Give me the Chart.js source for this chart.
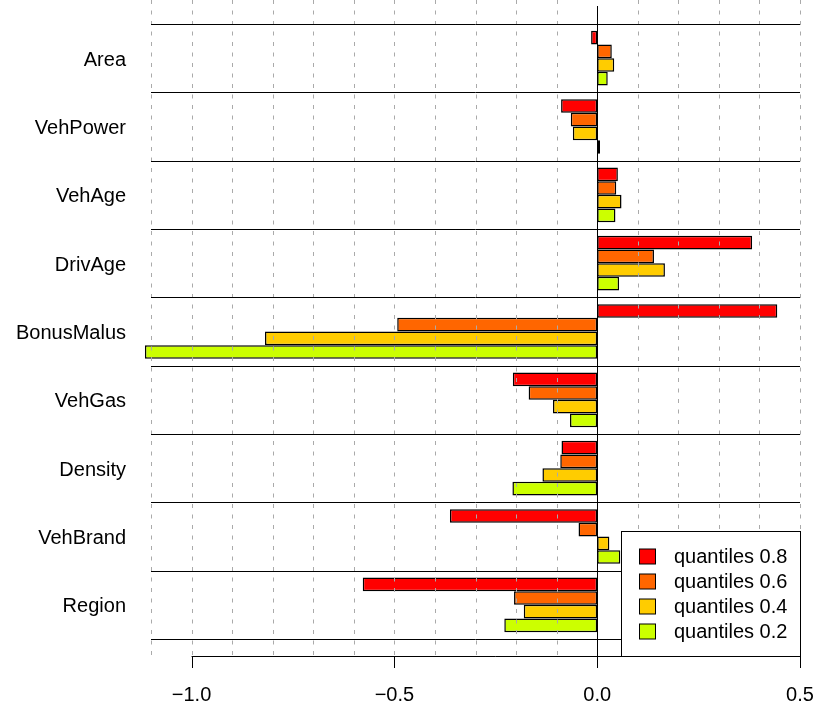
<!DOCTYPE html>
<html>
<head>
<meta charset="utf-8">
<script src="https://cdn.jsdelivr.net/npm/chart.js@4/dist/chart.umd.min.js"></script>
<style>
  html, body { margin: 0; padding: 0; background: #fff; }
  #wrap { width: 817px; height: 705px; position: relative; }
</style>
</head>
<body>
<div id="wrap"><canvas id="chart"></canvas></div>
<script>
const categories = ["Area", "VehPower", "VehAge", "DrivAge", "BonusMalus", "VehGas", "Density", "VehBrand", "Region"];

const q08 = [-0.015, -0.089, 0.051, 0.382, 0.444, -0.208, -0.088, -0.363, -0.578];
const q06 = [0.036, -0.065, 0.047, 0.140, -0.493, -0.169, -0.091, -0.046, -0.205];
const q04 = [0.042, -0.060, 0.060, 0.167, -0.819, -0.109, -0.135, 0.030, -0.181];
const q02 = [0.026, 0.007, 0.045, 0.054, -1.115, -0.067, -0.209, 0.057, -0.229];

const seriesNames = ["quantiles 0.8", "quantiles 0.6", "quantiles 0.4", "quantiles 0.2"];
const seriesColors = ["#FF0000", "#FF6600", "#FFCC00", "#CCFF00"];

const xTicks = [-1.0, -0.5, 0.0, 0.5];
const gridValues = [-1.1, -1.0, -0.9, -0.8, -0.7, -0.6, -0.5, -0.4, -0.3, -0.2, -0.1, 0.1, 0.2, 0.3, 0.4, 0.5];

const FONT = "'Liberation Sans', Arial, sans-serif";
const AXIS_Y = 656;

function noPad(s) {
  s.paddingTop = 0;
  s.paddingBottom = 0;
  s.paddingLeft = 0;
  s.paddingRight = 0;
}

// R style overlay: dashed grid, band separators, zero line, axis line
const overlay = {
  id: "overlay",
  afterDatasetsDraw(chart) {
    const ctx = chart.ctx;
    const x = chart.scales.x;
    const area = chart.chartArea;
    ctx.save();

    ctx.strokeStyle = "#aaaaaa";
    ctx.lineWidth = 1;
    ctx.setLineDash([4, 6.5]);
    gridValues.forEach(v => {
      const px = Math.round(x.getPixelForValue(v)) + 0.5;
      ctx.beginPath();
      ctx.moveTo(px, 0);
      ctx.lineTo(px, AXIS_Y);
      ctx.stroke();
    });
    ctx.setLineDash([]);

    ctx.strokeStyle = "#000";
    const band = (area.bottom - area.top) / categories.length;
    for (let i = 0; i <= categories.length; i++) {
      const py = Math.round(area.top + i * band) + 0.5;
      ctx.beginPath();
      ctx.moveTo(area.left, py);
      ctx.lineTo(area.right, py);
      ctx.stroke();
    }

    const zx = Math.round(x.getPixelForValue(0)) + 0.5;
    ctx.beginPath();
    ctx.moveTo(zx, 6);
    ctx.lineTo(zx, AXIS_Y);
    ctx.stroke();

    ctx.beginPath();
    ctx.moveTo(x.getPixelForValue(xTicks[0]), AXIS_Y + 0.5);
    ctx.lineTo(x.getPixelForValue(xTicks[xTicks.length - 1]), AXIS_Y + 0.5);
    ctx.stroke();
    xTicks.forEach(v => {
      const px = Math.round(x.getPixelForValue(v)) + 0.5;
      ctx.beginPath();
      ctx.moveTo(px, AXIS_Y);
      ctx.lineTo(px, AXIS_Y + 12);
      ctx.stroke();
    });

    // legend box
    const lx = 621.5, ly = 531.5, lw = 179, lh = 125;
    ctx.fillStyle = "#fff";
    ctx.fillRect(lx, ly, lw, lh);
    ctx.strokeRect(lx, ly, lw, lh);
    ctx.font = "20px " + FONT;
    ctx.textBaseline = "middle";
    ctx.textAlign = "left";
    chart.data.datasets.forEach((ds, i) => {
      const cy = 556.5 + i * 25;
      ctx.fillStyle = ds.backgroundColor;
      ctx.fillRect(639.5, cy - 7.5, 16, 15);
      ctx.strokeRect(639.5, cy - 7.5, 16, 15);
      ctx.fillStyle = "#000";
      ctx.fillText(ds.label, 674, cy + 1);
    });

    ctx.restore();
  }
};

const ctx = document.getElementById("chart").getContext("2d");
new Chart(ctx, {
  type: "bar",
  data: {
    labels: categories,
    datasets: [q08, q06, q04, q02].map((vals, i) => ({
      label: seriesNames[i],
      data: vals,
      backgroundColor: seriesColors[i],
      borderColor: "#000",
      borderWidth: 1.5,
      borderSkipped: false,
      categoryPercentage: 0.8,
      barPercentage: 1.0,
      clip: false
    }))
  },
  options: {
    indexAxis: "y",
    responsive: true,
    maintainAspectRatio: false,
    animation: false,
    layout: { padding: { top: 24, right: 17, left: 0, bottom: 0 } },
    plugins: {
      legend: { display: false },
      tooltip: { enabled: false }
    },
    scales: {
      x: {
        type: "linear",
        min: -1.1,
        max: 0.5,
        grid: { display: false, drawTicks: false },
        border: { display: false },
        afterBuildTicks: s => { s.ticks = xTicks.map(v => ({ value: v })); },
        afterFit: s => { s.height = 66; noPad(s); },
        ticks: {
          padding: 44,
          color: "#000",
          font: { family: FONT, size: 20 },
          maxRotation: 0,
          autoSkip: false,
          callback: v => v.toFixed(1).replace("-", "\u2212")
        }
      },
      y: {
        grid: { display: false, drawTicks: false },
        border: { display: false },
        afterFit: s => { s.width = 151; noPad(s); },
        ticks: {
          padding: 25,
          labelOffset: 2,
          color: "#000",
          font: { family: FONT, size: 20 }
        }
      }
    }
  },
  plugins: [overlay]
});
</script>
</body>
</html>
